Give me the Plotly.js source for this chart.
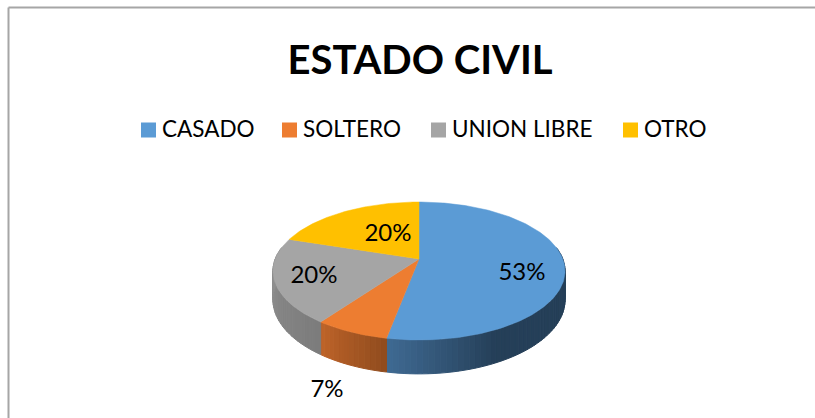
<!DOCTYPE html>
<html><head><meta charset="utf-8">
<script src="https://cdn.plot.ly/plotly-3.0.1.min.js"></script>
<style>html,body{margin:0;padding:0;background:#fff}#c{width:815px;height:418px}</style>
</head><body><div id="c"></div>
<script>
const categories = ["CASADO", "SOLTERO", "UNION LIBRE", "OTRO"];
const percentages = [53, 7, 20, 20];
const topColors = ["#5B9BD5", "#ED7D31", "#A5A5A5", "#FFC000"];
const sideStart = ["#3F6A93", "#BF6429", "#929292", "#B38600"];
const sideEnd = ["#253F58", "#8F4B1E", "#7C7C7C", "#B38600"];
const chartTitle = "ESTADO CIVIL";
const FONT = "Lato, Carlito, Calibri, sans-serif";

// projected disc: pixel units on hidden axes
const CX = 419, AY = 259, A = 143.8, B = 66.9, K = 0.174, DEPTH = 28;
function proj(theta, r, drop) {
  const u = r * Math.sin(theta), v = -r * Math.cos(theta), w = 1 - K * v;
  return [CX + A * u / w, AY + B * v / w + drop / w];
}
function hex(c){return [1,3,5].map(i=>parseInt(c.substr(i,2),16));}
function mix(a,b,t){const p=hex(a),q=hex(b);return "rgb("+p.map((x,i)=>Math.round(x+(q[i]-x)*t)).join(",")+")";}
const total = percentages.reduce((a,b)=>a+b,0);
const traces = [], DEG = Math.PI/180;
let acc = 0;
const spans = percentages.map(p=>{const s=[acc/total*2*Math.PI,(acc+p)/total*2*Math.PI];acc+=p;return s;});
// side wall strips
spans.forEach((s,i)=>{
  const from=Math.max(s[0],80*DEG), to=Math.min(s[1],280*DEG);
  if(to<=from) return;
  const n=Math.ceil((to-from)/(2*DEG));
  for(let j=0;j<n;j++){
    const a=from+(to-from)*j/n,b=from+(to-from)*(j+1)/n;
    const pts=[proj(a,1,0),proj(b,1,0),proj(b,1,DEPTH),proj(a,1,DEPTH),proj(a,1,0)];
    const f=(j+0.5)/n;
    const col=i===0?mix(sideStart[0],sideEnd[0],Math.min(1,(1-f)*3)):mix(sideEnd[i],sideStart[i],f);
    traces.push({type:"scatter",mode:"lines",x:pts.map(p=>p[0]),y:pts.map(p=>p[1]),fill:"toself",fillcolor:col,
      line:{color:col,width:1},showlegend:false,hoverinfo:"skip"});
  }
});
// top faces
spans.forEach((s,i)=>{
  const n=Math.ceil((s[1]-s[0])/(1*DEG)),pts=[proj(0,0,0)];
  for(let j=0;j<=n;j++)pts.push(proj(s[0]+(s[1]-s[0])*j/n,1,0));
  pts.push(proj(0,0,0));
  traces.push({type:"scatter",mode:"lines",x:pts.map(p=>p[0]),y:pts.map(p=>p[1]),fill:"toself",fillcolor:topColors[i],
    line:{color:topColors[i],width:0.5},showlegend:false,hoverinfo:"skip"});
});
// key: swatch with its label
const keyLeft=[148.5,289.5,438.5,630.5];
categories.forEach((c,i)=>traces.push({type:"scatter",mode:"markers",name:c,x:[keyLeft[i]],y:[130],
  marker:{symbol:"square",size:15,color:topColors[i]},showlegend:false,hoverinfo:"skip",cliponaxis:false}));
traces.push({type:"scatter",mode:"text",x:keyLeft.map(k=>k+13.5),y:keyLeft.map(()=>131),
  text:categories,textposition:"middle right",textfont:{family:FONT,size:22.5,color:"#000"},
  showlegend:false,hoverinfo:"skip",cliponaxis:false});
// data labels
traces.push({type:"scatter",mode:"text",x:[522,327,314,388],y:[274,391,277,235],
  text:percentages.map(p=>p+"%"),textposition:"middle center",textfont:{family:FONT,size:24,color:"#000"},
  showlegend:false,hoverinfo:"skip",cliponaxis:false});
const layout={width:815,height:418,margin:{l:0,r:0,t:0,b:0},paper_bgcolor:"#fff",plot_bgcolor:"#fff",showlegend:false,
  title:{text:"<b>"+chartTitle+"</b>",font:{family:FONT,size:40,color:"#000"},x:420/815,xanchor:"center",y:1-60/418,yanchor:"middle"},
  xaxis:{range:[0,815],visible:false,fixedrange:true},
  yaxis:{range:[418,0],visible:false,fixedrange:true},
  shapes:[
    {type:"line",xref:"paper",yref:"paper",x0:8.5/815,x1:8.5/815,y0:0,y1:1-7.5/418,line:{color:"#A6A6A6",width:2}},
    {type:"line",xref:"paper",yref:"paper",x0:8.5/815,x1:1,y0:1-7.5/418,y1:1-7.5/418,line:{color:"#A6A6A6",width:2}}
  ]};
Plotly.newPlot("c",traces,layout,{displayModeBar:false,staticPlot:true});
</script></body></html>
